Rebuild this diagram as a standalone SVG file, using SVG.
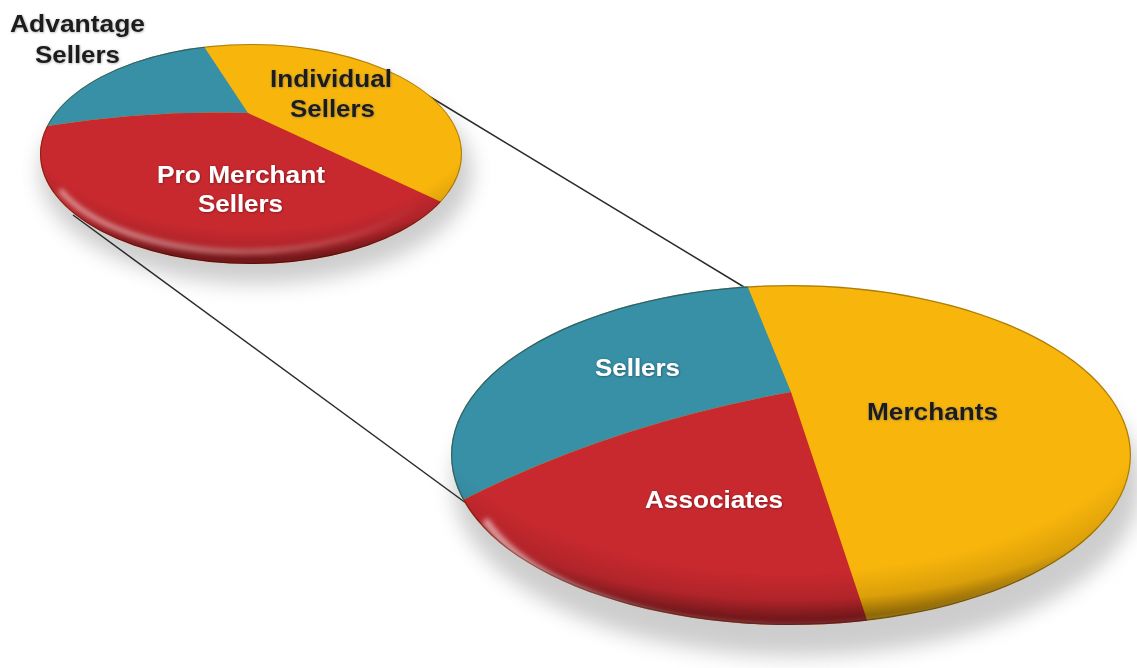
<svg xmlns="http://www.w3.org/2000/svg" width="1137" height="668" viewBox="0 0 1137 668">
  <style>
    .teal { fill: #3890a6; }
    .yellow { fill: #f8b50b; }
    .red { fill: #c8292f; }
    .lbl { font-family: "Liberation Sans", Arial, sans-serif; font-weight: bold; font-size: 24px; }
    .dark { fill: #1a1a1a; }
    .light { fill: #ffffff; }
    .conn { stroke: #2a2a2a; stroke-width: 1.5; fill: none; }
  </style>
  <defs>
    <filter id="shadowBlur" x="-20%" y="-30%" width="140%" height="160%">
      <feGaussianBlur stdDeviation="10"/>
    </filter>
    <filter id="soft" x="-10%" y="-10%" width="120%" height="120%">
      <feGaussianBlur stdDeviation="2.5"/>
    </filter>
    <filter id="txtDark" x="-10%" y="-30%" width="120%" height="160%">
      <feDropShadow dx="0.5" dy="0.5" stdDeviation="0.8" flood-color="#666" flood-opacity="0.6"/>
    </filter>
    <filter id="txtLight" x="-10%" y="-30%" width="120%" height="160%">
      <feDropShadow dx="0.5" dy="0.5" stdDeviation="0.8" flood-color="#000" flood-opacity="0.45"/>
    </filter>
    <radialGradient id="rim" cx="0.5" cy="0.3" r="0.68">
      <stop offset="0" stop-color="#000" stop-opacity="0"/>
      <stop offset="0.8" stop-color="#000" stop-opacity="0"/>
      <stop offset="0.92" stop-color="#000" stop-opacity="0.12"/>
      <stop offset="1" stop-color="#000" stop-opacity="0.42"/>
    </radialGradient>
    <linearGradient id="hl" x1="0" y1="0" x2="1" y2="0">
      <stop offset="0" stop-color="#fff" stop-opacity="0.55"/>
      <stop offset="0.45" stop-color="#fff" stop-opacity="0.35"/>
      <stop offset="1" stop-color="#fff" stop-opacity="0"/>
    </linearGradient>
    <clipPath id="clipSmall"><ellipse cx="251" cy="154" rx="211" ry="110"/></clipPath>
    <clipPath id="clipBig"><ellipse cx="791" cy="455" rx="340" ry="170"/></clipPath>
  </defs>

  <rect width="1137" height="668" fill="#ffffff"/>

  <g id="shadows">
    <ellipse cx="256" cy="172" rx="216" ry="112" fill="#cdcdcd" filter="url(#shadowBlur)"/>
    <ellipse cx="797" cy="484" rx="344" ry="172" fill="#cdcdcd" filter="url(#shadowBlur)"/>
  </g>

  <g id="connectors">
    <line class="conn" x1="427" y1="95" x2="744" y2="287"/>
    <line class="conn" x1="73" y1="215" x2="470" y2="506"/>
  </g>

  <g id="pie-small">
    <g clip-path="url(#clipSmall)">
      <rect class="yellow" x="30" y="40" width="440" height="230"/>
      <path class="teal" d="M248,113 L195,33 L0,33 L0,126 L47,126 Q150,110 248,113 Z"/>
      <path class="red" d="M248,113 L437,200 L520,238 L520,300 L0,300 L0,126 L47,126 Q150,110 248,113 Z"/>
      <ellipse cx="251" cy="154" rx="211" ry="110" fill="url(#rim)"/>
      <path d="M60,190 A200,100 0 0 0 420,200" fill="none" stroke="url(#hl)" stroke-width="5" filter="url(#soft)"/>
      <ellipse cx="251" cy="154" rx="211" ry="110" fill="none" stroke="#000" stroke-opacity="0.3" stroke-width="2"/>
    </g>
  </g>

  <g id="pie-big">
    <g clip-path="url(#clipBig)">
      <rect class="yellow" x="440" y="280" width="700" height="350"/>
      <path class="teal" d="M791,392 L747,285 L740,270 L440,270 L440,500 L463,500 Q610,425 791,392 Z"/>
      <path class="red" d="M791,392 L867,620 L875,645 L440,645 L440,500 L463,500 Q610,425 791,392 Z"/>
      <ellipse cx="791" cy="455" rx="340" ry="170" fill="url(#rim)"/>
      <path d="M485,520 A322,158 0 0 0 1080,540" fill="none" stroke="url(#hl)" stroke-width="7" filter="url(#soft)"/>
      <ellipse cx="791" cy="455" rx="340" ry="170" fill="none" stroke="#000" stroke-opacity="0.3" stroke-width="2.5"/>
    </g>
  </g>

  <g id="label-advantage" class="lbl dark" filter="url(#txtDark)">
    <text x="10" y="32" textLength="135" lengthAdjust="spacingAndGlyphs">Advantage</text>
    <text x="35" y="63" textLength="85" lengthAdjust="spacingAndGlyphs">Sellers</text>
  </g>
  <g id="label-individual" class="lbl dark" filter="url(#txtDark)">
    <text x="270" y="87" textLength="122" lengthAdjust="spacingAndGlyphs">Individual</text>
    <text x="290" y="117" textLength="85" lengthAdjust="spacingAndGlyphs">Sellers</text>
  </g>
  <g id="label-pro" class="lbl light" filter="url(#txtLight)">
    <text x="157" y="183" textLength="168" lengthAdjust="spacingAndGlyphs">Pro Merchant</text>
    <text x="198" y="212" textLength="85" lengthAdjust="spacingAndGlyphs">Sellers</text>
  </g>
  <g id="label-sellers" class="lbl light" filter="url(#txtLight)">
    <text x="595" y="376" textLength="85" lengthAdjust="spacingAndGlyphs">Sellers</text>
  </g>
  <g id="label-merchants" class="lbl dark" filter="url(#txtDark)">
    <text x="867" y="420" textLength="131" lengthAdjust="spacingAndGlyphs">Merchants</text>
  </g>
  <g id="label-associates" class="lbl light" filter="url(#txtLight)">
    <text x="645" y="508" textLength="138" lengthAdjust="spacingAndGlyphs">Associates</text>
  </g>
</svg>
